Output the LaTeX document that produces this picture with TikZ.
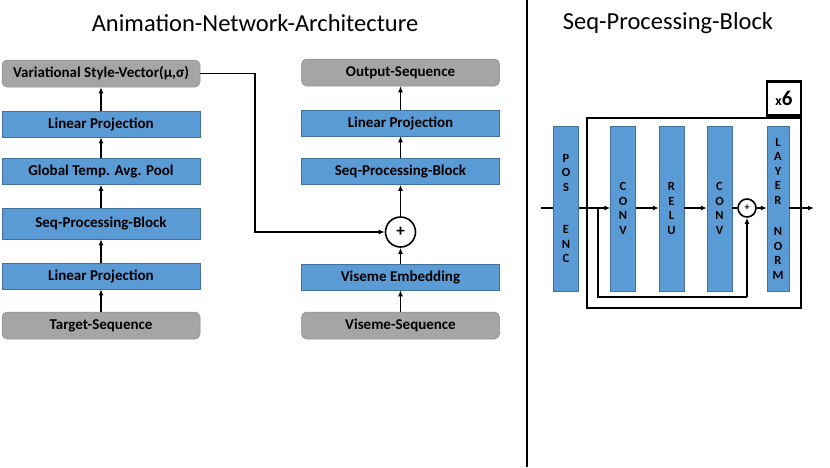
\documentclass[tikz,border=0pt]{standalone}
\usepackage{fontspec}
\setmainfont{Carlito}
\usetikzlibrary{arrows.meta}
\definecolor{bfill}{HTML}{5B9BD5}
\definecolor{bdraw}{HTML}{41719C}
\definecolor{gfill}{HTML}{A5A5A5}
\definecolor{gdraw}{HTML}{8C8C8C}
\tikzset{
  bbox/.style={rectangle, fill=bfill, draw=bdraw, line width=0.5pt, minimum width=198pt, minimum height=26pt, inner sep=0pt, font=\bfseries\fontsize{15}{17}\selectfont},
  gbox/.style={rectangle, rounded corners=5pt, fill=gfill, draw=gdraw, line width=0.5pt, minimum width=198pt, minimum height=27pt, inner sep=0pt, font=\bfseries\fontsize{15}{17}\selectfont},
  vbar/.style={rectangle, fill=bfill, draw=bdraw, line width=0.4pt, minimum width=25pt, minimum height=165pt, inner sep=0pt, font=\bfseries\fontsize{12.5}{14.5}\selectfont, align=center},
  arr/.style={-{Latex[length=6pt,width=5pt]}, line width=1.6pt},
  ln/.style={line width=1.6pt},
  title/.style={font=\fontsize{24.5}{28}\selectfont},
}
\begin{document}
\begin{tikzpicture}[x=1pt,y=-1pt]
\useasboundingbox (0,0) rectangle (830,467);
% titles
\node[title] (t1) at (255,23) {Animation-Network-Architecture};
\node[title] (t2) at (668,23) {Seq-Processing-Block};
\draw[line width=1.8pt] (527,0) -- (527,467);
% left column
\node[gbox] (vsv) at (101,73.5) {Variational Style-Vector(μ,σ)};
\node[bbox] (lp1) at (101,124) {Linear Projection};
\node[bbox] (gtap) at (101,171.5) {Global Temp. Avg. Pool};
\node[bbox, minimum height=31pt] (spb1) at (101,223.5) {Seq-Processing-Block};
\node[bbox] (lp0) at (101,276) {Linear Projection};
\node[gbox] (tseq) at (101,325.5) {Target-Sequence};
\draw[arr] (tseq) -- (lp0);
\draw[arr] (lp0) -- (spb1);
\draw[arr] (spb1) -- (gtap);
\draw[arr] (gtap) -- (lp1);
\draw[arr] (lp1) -- (vsv);
% right column
\node[gbox] (oseq) at (400.5,72.5) {Output-Sequence};
\node[bbox] (lp2) at (400.5,123) {Linear Projection};
\node[bbox] (spb2) at (400.5,171.5) {Seq-Processing-Block};
\node[circle, draw, line width=1.6pt, minimum size=30pt, inner sep=0pt, font=\bfseries\fontsize{17}{17}\selectfont] (plus) at (400.5,232) {+};
\node[bbox] (vemb) at (400.5,277) {Viseme Embedding};
\node[gbox] (vseq) at (400.5,325.5) {Viseme-Sequence};
\draw[arr] (vseq) -- (vemb);
\draw[arr] (vemb) -- (plus);
\draw[arr] (plus) -- (spb2);
\draw[arr] (spb2) -- (lp2);
\draw[arr] (lp2) -- (oseq);
\coordinate (c1) at (255,73.5);
\coordinate (c2) at (255,232);
\draw[arr] (vsv.east) -- (c1) -- (c2) -- (plus.west);
% seq processing block
\node[draw, line width=2.6pt, minimum width=214pt, minimum height=190pt, inner sep=0pt] (outer) at (694,213) {};
\node[draw, line width=2.6pt, minimum width=34pt, minimum height=34pt, inner sep=0pt, anchor=south east, font=\bfseries] (x6) at (outer.north east) {\fontsize{14}{14}\selectfont x\fontsize{21}{21}\selectfont 6};
\node[vbar] (pos) at (566,208.5) {P\\O\\S\\[28pt]E\\N\\C};
\node[vbar] (conv1) at (623,208.5) {C\\O\\N\\V};
\node[vbar] (relu) at (671.5,208.5) {R\\E\\L\\U};
\node[vbar] (conv2) at (719.5,208.5) {C\\O\\N\\V};
\node[vbar, minimum width=22pt] (lnorm) at (778,208.5) {L\\A\\Y\\E\\R\\[17pt]N\\O\\R\\M};
\node[circle, draw, line width=1.6pt, minimum size=18pt, inner sep=0pt, font=\bfseries\fontsize{10}{10}\selectfont] (p2) at (747,208) {+};
\coordinate (in) at (541,208);
\coordinate (out) at (814,208);
\coordinate (sk) at (598,208);
\coordinate (sk2) at (598,297);
\coordinate (sk3) at (747,297);
\draw[ln] (in) -- (pos.west |- in);
\draw[arr] (pos.east |- in) -- (conv1.west |- in);
\draw[arr] (conv1.east |- in) -- (relu.west |- in);
\draw[arr] (relu.east |- in) -- (conv2.west |- in);
\draw[ln] (conv2.east |- in) -- (p2.west);
\draw[arr] (p2.east) -- (lnorm.west |- in);
\draw[arr] (lnorm.east |- in) -- (out);
\draw[ln] (sk) -- (sk2) -- (sk3);
\draw[arr] (sk3) -- (p2.south);
\end{tikzpicture}
\end{document}
